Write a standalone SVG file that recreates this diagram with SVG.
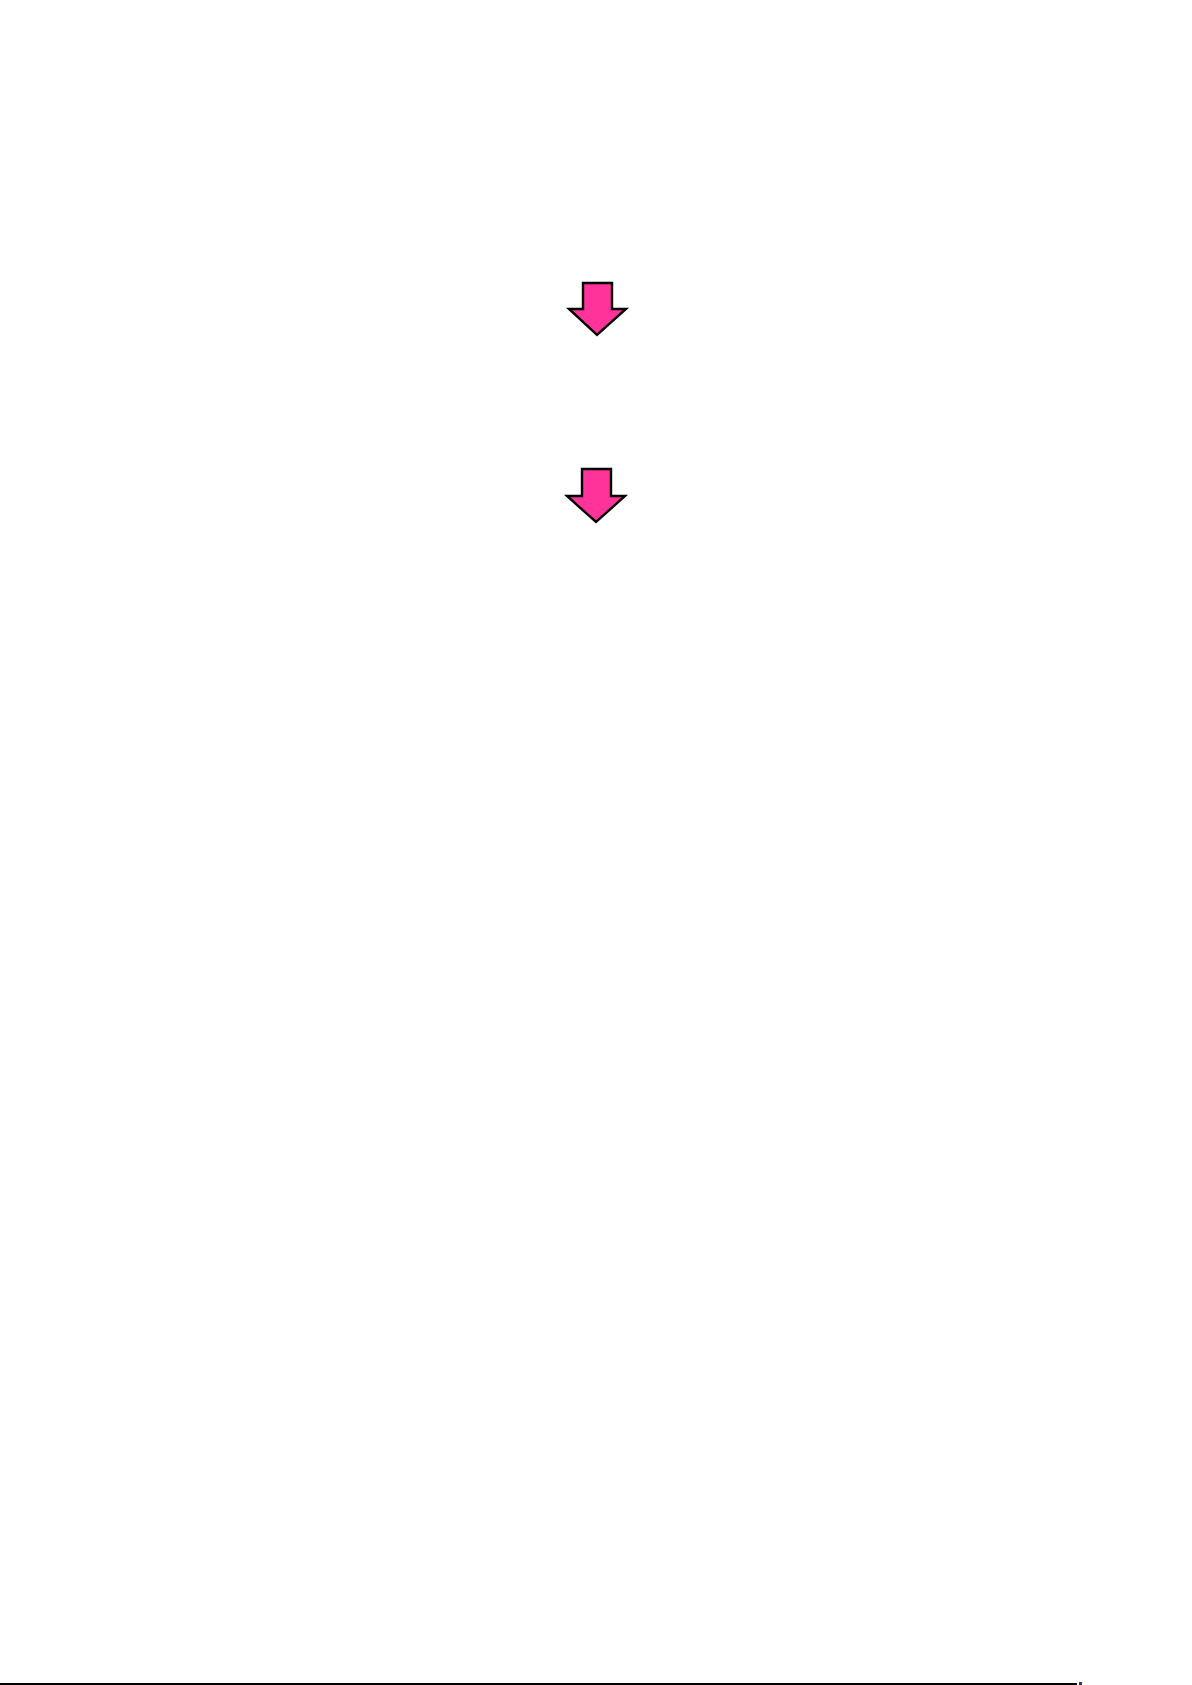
<svg xmlns="http://www.w3.org/2000/svg" width="1192" height="1685" viewBox="0 0 1192 1685">
<style>
.arrow{fill:#ff3399;stroke:#000;stroke-width:2.4;stroke-linejoin:miter}
.rule{stroke:#000;stroke-width:2}
</style>
<rect width="1192" height="1685" fill="#fff"/>
<g id="arrow1">
<polygon class="arrow" points="583,283 612,283 612,309 626,309 597,335 569,309 583,309"/>
</g>
<g id="arrow2">
<polygon class="arrow" points="582,469 611,469 611,496 625,496 596,522 567,496 582,496"/>
</g>
<g id="connectors"></g>
<line class="rule" x1="0" y1="1684" x2="1077" y2="1684"/>
<rect x="1079" y="1682" width="3" height="3" fill="#336"/>
</svg>
